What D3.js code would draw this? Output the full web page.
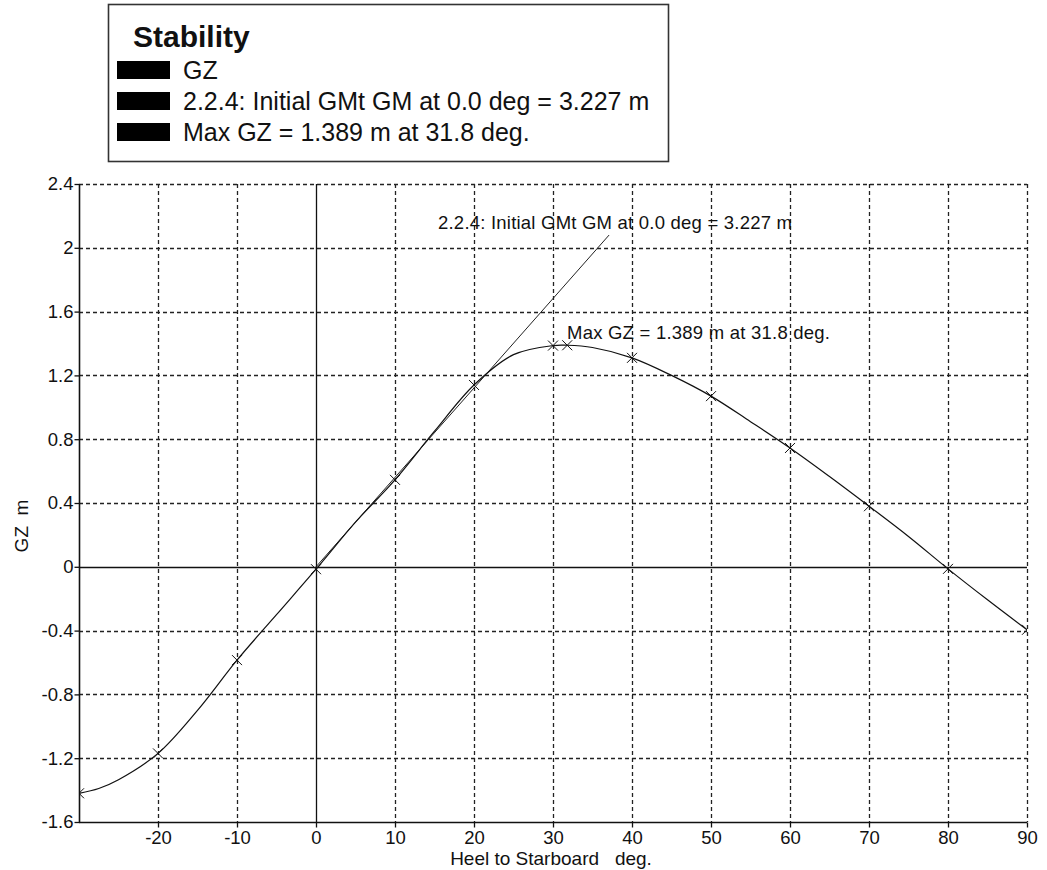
<!DOCTYPE html>
<html>
<head>
<meta charset="utf-8">
<script src="https://cdnjs.cloudflare.com/ajax/libs/d3/7.8.5/d3.min.js"></script>
<style>
  body { margin: 0; background: #fff; }
  text { font-family: "Liberation Sans", Arial, sans-serif; fill: #111; }
</style>
</head>
<body>
<div id="chart"></div>
<script>
let w = 1047;
let h = 870;

// GZ curve (heel deg, GZ m)
let heelDeg = [-30, -27.5, -25, -20, -15, -10, -5, 0, 5, 10, 15, 20, 25, 30, 31.8, 35, 40, 45, 50, 55, 60, 65, 70, 75, 80, 85, 90];
let gzValues = [-1.42, -1.39, -1.335, -1.17, -0.90, -0.585, -0.30, -0.015, 0.28, 0.545, 0.85, 1.14, 1.33, 1.387, 1.389, 1.375, 1.31, 1.20, 1.07, 0.91, 0.745, 0.566, 0.38, 0.19, -0.013, -0.207, -0.395];
// points that carry an "x" marker
let markerDeg = [-30, -20, -10, 0, 10, 20, 30, 31.8, 40, 50, 60, 70, 80, 90];
// initial GM line end points
let gmDeg = [0, 37.1];
let gmValues = [0, 2.08];

let xTicks = [-20, -10, 0, 10, 20, 30, 40, 50, 60, 70, 80, 90];
let yTicks = [2.4, 2, 1.6, 1.2, 0.8, 0.4, 0, -0.4, -0.8, -1.2, -1.6];
let legendTitle = "Stability";
let legendItems = ["GZ", "2.2.4: Initial GMt GM at 0.0 deg = 3.227 m", "Max GZ = 1.389 m at 31.8 deg."];
let gmLabel = "2.2.4: Initial GMt GM at 0.0 deg = 3.227 m";
let maxLabel = "Max GZ = 1.389 m at 31.8 deg.";

let pLeft = 79, pRight = 1027, pTop = 184, pBottom = 822;

let svg = d3.select("#chart").append("svg")
    .attr("width", w)
    .attr("height", h);

let x = d3.scaleLinear().domain([-30, 90]).range([pLeft, pRight]);
let y = d3.scaleLinear().domain([-1.6, 2.4]).range([pBottom, pTop]);

svg.append("clipPath").attr("id", "plot")
    .append("rect")
    .attr("x", pLeft).attr("y", pTop)
    .attr("width", pRight - pLeft).attr("height", pBottom - pTop);

// dashed grid
let grid = svg.append("g")
    .attr("stroke", "#222")
    .attr("stroke-width", 1.3)
    .attr("stroke-dasharray", "4,3");
grid.selectAll(".vg").data(xTicks.filter(d => d != 0)).join("line")
    .attr("x1", d => Math.round(x(d)) + 0.5).attr("x2", d => Math.round(x(d)) + 0.5)
    .attr("y1", pTop).attr("y2", pBottom);
grid.selectAll(".hg").data(yTicks.filter(d => d != 0 && d != -1.6)).join("line")
    .attr("x1", pLeft).attr("x2", pRight)
    .attr("y1", d => Math.round(y(d)) + 0.5).attr("y2", d => Math.round(y(d)) + 0.5);

// zero lines
svg.append("line")
    .attr("x1", Math.round(x(0)) + 0.5).attr("x2", Math.round(x(0)) + 0.5)
    .attr("y1", pTop).attr("y2", pBottom)
    .attr("stroke", "#111").attr("stroke-width", 1.3);
svg.append("line")
    .attr("x1", pLeft).attr("x2", pRight)
    .attr("y1", Math.round(y(0)) + 0.5).attr("y2", Math.round(y(0)) + 0.5)
    .attr("stroke", "#111").attr("stroke-width", 1.3);

// axes
let yAxis = d3.axisLeft(y).tickValues(yTicks).tickSize(5).tickPadding(1)
    .tickFormat(d => String(d));
let gy = svg.append("g")
    .attr("transform", "translate(" + (pLeft + 0.5) + ",0)")
    .call(yAxis);
let xAxis = d3.axisBottom(x).tickValues(xTicks).tickSize(5).tickPadding(3)
    .tickFormat(d => String(d));
let gx = svg.append("g")
    .attr("transform", "translate(0," + (pBottom + 0.5) + ")")
    .call(xAxis);
[gx, gy].forEach(function(g){
    g.select(".domain").attr("stroke", "#111").attr("stroke-width", 1.6);
    g.selectAll(".tick line").attr("stroke", "#111").attr("stroke-width", 1.3);
    g.selectAll(".tick text")
        .attr("font-family", "Liberation Sans, Arial, sans-serif")
        .attr("font-size", 18.5)
        .attr("fill", "#222");
});
gx.select(".domain").attr("d", "M" + pLeft + ",0H" + pRight);
gy.select(".domain").attr("d", "M0," + pTop + "V" + pBottom);

// axis titles
svg.append("text")
    .attr("transform", "translate(28,526) rotate(-90)")
    .attr("text-anchor", "middle")
    .attr("font-size", 19)
    .style("white-space", "pre")
    .text("GZ  m");
svg.append("text")
    .attr("x", 551).attr("y", 865)
    .attr("text-anchor", "middle")
    .attr("font-size", 19)
    .style("white-space", "pre")
    .text("Heel to Starboard   deg.");

// curves
let pts = heelDeg.map((d, i) => [d, gzValues[i]]);
let lineMaker = d3.line()
    .x(d => x(d[0]))
    .y(d => y(d[1]))
    .curve(d3.curveCatmullRom.alpha(0.5));

let plot = svg.append("g").attr("clip-path", "url(#plot)");

plot.append("path")
    .attr("d", d3.line().x(d => x(d[0])).y(d => y(d[1]))(gmDeg.map((d, i) => [d, gmValues[i]])))
    .attr("fill", "none")
    .attr("stroke", "#222")
    .attr("stroke-width", 1);

plot.append("path")
    .attr("d", lineMaker(pts))
    .attr("fill", "none")
    .attr("stroke", "#111")
    .attr("stroke-width", 1.2);

let marks = pts.filter(d => markerDeg.includes(d[0]));
plot.selectAll(".mk").data(marks).join("path")
    .attr("d", function(d){
        let px = x(d[0]), py = y(d[1]), s = 5;
        return "M" + (px - s) + "," + (py - s) + "L" + (px + s) + "," + (py + s) +
            "M" + (px - s) + "," + (py + s) + "L" + (px + s) + "," + (py - s);
    })
    .attr("stroke", "#111")
    .attr("stroke-width", 1);

// annotations
svg.append("text")
    .attr("x", 438).attr("y", 229)
    .attr("font-size", 18.5)
    .attr("textLength", 354)
    .text(gmLabel);
svg.append("text")
    .attr("x", 567).attr("y", 339)
    .attr("font-size", 18.5)
    .attr("textLength", 263)
    .text(maxLabel);

// legend
let lg = svg.append("g");
lg.append("rect")
    .attr("x", 108.5).attr("y", 4.5)
    .attr("width", 560).attr("height", 157)
    .attr("fill", "#fff")
    .attr("stroke", "#333")
    .attr("stroke-width", 1.6);
lg.append("text")
    .attr("x", 133).attr("y", 47)
    .attr("font-size", 30)
    .attr("font-weight", "bold")
    .text(legendTitle);
lg.selectAll(".sw").data(legendItems).join("rect")
    .attr("x", 117).attr("y", (d, i) => 61 + i * 31)
    .attr("width", 53).attr("height", 18)
    .attr("fill", "#000");
lg.selectAll(".lt").data(legendItems).join("text")
    .attr("x", 183).attr("y", (d, i) => 79 + i * 31)
    .attr("font-size", 25)
    .text(d => d);
</script>
</body>
</html>
